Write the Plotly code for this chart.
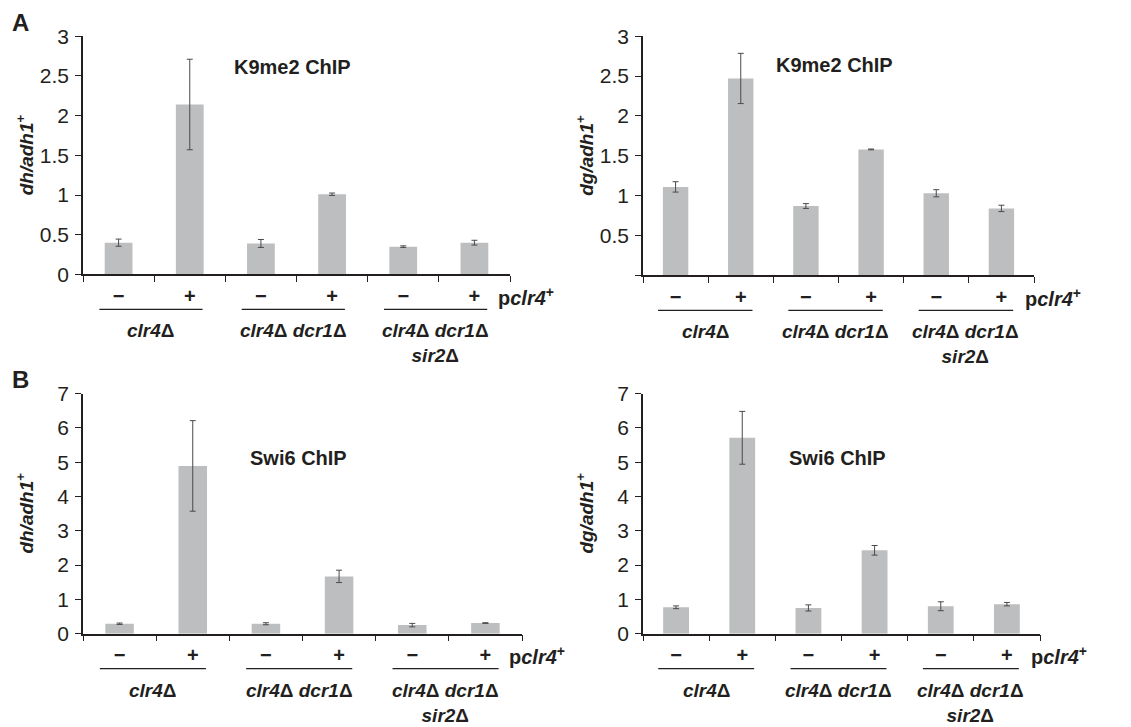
import plotly.graph_objects as go

categories = ["clr4Δ −", "clr4Δ +", "clr4Δ dcr1Δ −", "clr4Δ dcr1Δ +",
              "clr4Δ dcr1Δ sir2Δ −", "clr4Δ dcr1Δ sir2Δ +"]
tick_labels = ["−", "+", "−", "+", "−", "+"]
group_labels = ["<i>clr4</i>Δ", "<i>clr4</i>Δ <i>dcr1</i>Δ",
                "<i>clr4</i>Δ <i>dcr1</i>Δ<br><i>sir2</i>Δ"]
group_start = [0, 2, 4]

k9_dh = [0.40, 2.14, 0.39, 1.01, 0.35, 0.40]
k9_dh_err = [0.045, 0.57, 0.05, 0.015, 0.01, 0.03]
k9_dg = [1.11, 2.47, 0.87, 1.58, 1.03, 0.84]
k9_dg_err = [0.065, 0.315, 0.03, 0.005, 0.045, 0.04]
swi6_dh = [0.29, 4.89, 0.29, 1.67, 0.25, 0.31]
swi6_dh_err = [0.02, 1.32, 0.03, 0.18, 0.05, 0.01]
swi6_dg = [0.77, 5.71, 0.75, 2.43, 0.80, 0.86]
swi6_dg_err = [0.04, 0.77, 0.09, 0.14, 0.13, 0.05]

W, H = 1131, 727
FONT = "Arial, Liberation Sans, Helvetica, sans-serif"
TXT = "#231f20"
BAR = "#bcbec0"

panels = [
    dict(v=k9_dh, e=k9_dh_err, ytitle="<b><i>dh/adh1</i><sup>+</sup></b>", title="K9me2 ChIP",
         ymax=3, tv=[0, 0.5, 1, 1.5, 2, 2.5, 3], tt=["0", "0.5", "1", "1.5", "2", "2.5", "3"],
         box=(83, 510, 25, 271), ty=0.87),
    dict(v=k9_dg, e=k9_dg_err, ytitle="<b><i>dg/adh1</i><sup>+</sup></b>", title="K9me2 ChIP",
         ymax=3, tv=[0, 0.5, 1, 1.5, 2, 2.5, 3], tt=["", "0.5", "1", "1.5", "2", "2.5", "3"],
         box=(643, 1034, 25, 272), ty=0.88),
    dict(v=swi6_dh, e=swi6_dh_err, ytitle="<b><i>dh/adh1</i><sup>+</sup></b>", title="Swi6 ChIP",
         ymax=7, tv=list(range(8)), tt=[str(i) for i in range(8)],
         box=(83, 522, 394, 642), ty=0.73),
    dict(v=swi6_dg, e=swi6_dg_err, ytitle="<b><i>dg/adh1</i><sup>+</sup></b>", title="Swi6 ChIP",
         ymax=7, tv=list(range(8)), tt=[str(i) for i in range(8)],
         box=(643, 1040, 394, 642), ty=0.73),
]

fig = go.Figure()
annotations = []
shapes = []
layout = {}

for i, p in enumerate(panels, start=1):
    xa = "x" if i == 1 else f"x{i}"
    ya = "y" if i == 1 else f"y{i}"
    x0, x1, yt, yb = p["box"]
    fig.add_trace(go.Bar(
        x=categories, y=p["v"], xaxis=xa, yaxis=ya,
        marker=dict(color=BAR, line=dict(width=0)),
        width=0.39,
        error_y=dict(type="data", array=p["e"], color="#4a4a4a", thickness=1, width=3),
        showlegend=False, hoverinfo="y",
    ))
    layout["xaxis" if i == 1 else f"xaxis{i}"] = dict(
        domain=[x0 / W, x1 / W], anchor=ya, type="category",
        range=[-0.5, 5.5], tickson="boundaries",
        tickvals=categories, ticktext=tick_labels,
        tickfont=dict(family=FONT, size=20, color=TXT, weight="bold"),
        ticks="outside", ticklen=6, tickwidth=1.2, tickcolor=TXT,
        ticklabelstandoff=3,
        showline=True, linecolor=TXT, linewidth=1.5,
        showgrid=False, zeroline=False, fixedrange=True,
    )
    layout["yaxis" if i == 1 else f"yaxis{i}"] = dict(
        domain=[1 - yb / H, 1 - yt / H], anchor=xa, range=[0, p["ymax"]],
        tickvals=p["tv"], ticktext=p["tt"],
        tickfont=dict(family=FONT, size=21, color=TXT),
        ticks="outside", ticklen=6, tickwidth=1.2, tickcolor=TXT,
        ticklabelstandoff=2,
        showline=True, linecolor=TXT, linewidth=1.5,
        showgrid=False, zeroline=False, fixedrange=True,
    )
    annotations.append(dict(
        xref=f"{xa} domain", yref=f"{ya} domain", x=0, y=0.5, xshift=-58,
        text=p["ytitle"], textangle=-90, showarrow=False,
        font=dict(family=FONT, size=19, color=TXT), xanchor="center", yanchor="middle"))
    annotations.append(dict(
        xref=f"{xa} domain", yref=f"{ya} domain", x=0.49, y=p["ty"],
        text=f"<b>{p['title']}</b>", showarrow=False,
        font=dict(family=FONT, size=20, color=TXT), xanchor="center", yanchor="middle"))
    annotations.append(dict(
        xref=xa, yref=f"{ya} domain", x=len(categories) - 1, y=0, xshift=22, yshift=-22,
        text="<b>p<i>clr4</i><sup>+</sup></b>", showarrow=False,
        font=dict(family=FONT, size=20, color=TXT), xanchor="left", yanchor="middle"))
    for gs, gl in zip(group_start, group_labels):
        shapes.append(dict(
            type="line", xref=xa, yref=f"{ya} domain",
            x0=gs - 0.27, x1=gs + 1.18, yanchor=0, ysizemode="pixel", y0=-35, y1=-35,
            line=dict(color=TXT, width=1.3),
        ))
        annotations.append(dict(
            xref=xa, yref=f"{ya} domain", x=gs + 0.455, y=0, yshift=-44,
            text=f"<b>{gl}</b>", showarrow=False,
            font=dict(family=FONT, size=19, color=TXT), xanchor="center", yanchor="top"))

annotations.append(dict(xref="paper", yref="paper", x=10 / W, y=1 - 11 / H, text="<b>A</b>",
                        showarrow=False, font=dict(family=FONT, size=24, color=TXT),
                        xanchor="left", yanchor="middle"))
annotations.append(dict(xref="paper", yref="paper", x=10 / W, y=1 - 380 / H, text="<b>B</b>",
                        showarrow=False, font=dict(family=FONT, size=24, color=TXT),
                        xanchor="left", yanchor="middle"))

fig.update_layout(
    width=W, height=H, margin=dict(l=0, r=0, t=0, b=0),
    paper_bgcolor="white", plot_bgcolor="white",
    font=dict(family=FONT, color=TXT),
    bargap=0.6, annotations=annotations, shapes=shapes,
    **layout,
)

fig.write_html("out.html", config={"displayModeBar": False},
               post_script="document.body.style.margin='0';document.body.style.overflow='hidden';")
